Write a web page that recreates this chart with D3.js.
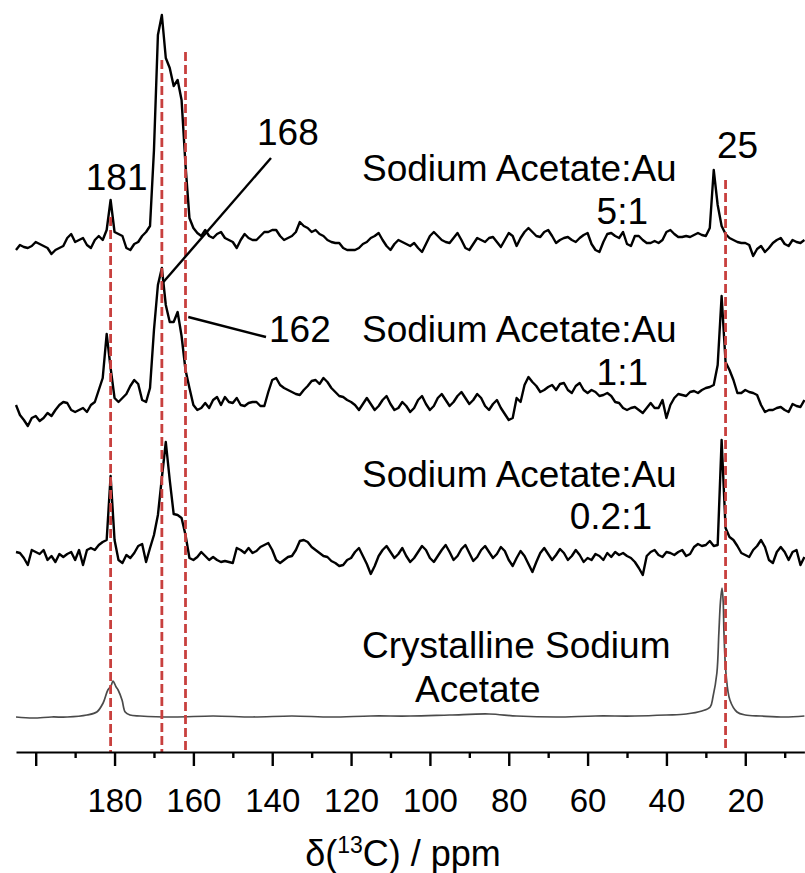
<!DOCTYPE html>
<html>
<head>
<meta charset="utf-8">
<script src="https://cdn.jsdelivr.net/npm/d3@7"></script>
<style>
  html, body { margin: 0; padding: 0; background: #fff; }
  svg { display: block; }
  text { font-family: "Liberation Sans", Arial, sans-serif; fill: #000; }
</style>
</head>
<body>
<svg id="chart" width="805" height="873"></svg>
<script>
// 13C MAS NMR spectra of sodium acetate on Au, stacked with vertical offsets.
// Each noisy spectrum is sampled every 1 ppm from 205 ppm down to 5 ppm.
const ppmStart = 205, ppmEnd = 5;

// Sodium Acetate:Au 5:1
const spec5to1 = [
  -8, -3, -5, -6, -4, 0, -2, -4, -6, -12,
  -8, -6, -4, 4, 8, 0, 2, 4, -3, -6,
  2, 6, 2, 12, 42, 10, 8, 6, -6, -8,
  -2, 0, 6, 10, 16, 92, 207, 227, 184, 174,
  156, 162, 142, 77, 24, 14, 9, 6, 12, 6,
  4, 8, 10, 4, 2, 0, -6, 2, 8, 4,
  2, 2, 6, 10, 10, 12, 12, 6, 2, 4,
  6, 10, 20, 16, 14, 10, 12, 8, 6, 2,
  0, -1, -1, -6, -8, -8, -8, -6, -2, 0,
  4, 6, 9, 2, -4, -8, -2, 2, 0, -2,
  -4, -1, -6, -10, -2, 6, 10, 6, 2, 0,
  -1, 4, 9, 2, -6, -8, -2, 4, 2, 0,
  4, 5, 0, -5, 2, 9, 6, -4, 4, 10,
  14, 10, 6, 5, 10, 12, 6, -1, 2, 4,
  5, 2, 0, 4, 7, 9, -2, -8, -10, 0,
  8, 9, 6, 4, 10, -2, -4, 6, 6, 2,
  -1, -1, 1, -1, 2, 10, 12, 8, 5, 5,
  6, 5, 7, 9, 7, 6, 14, 72, 37, 16,
  8, 4, 2, 0, -1, -1, -3, -14, -7, -4,
  -10, -6, -1, 2, 4, -2, -4, 2, 0, -1,
  2
];

// Sodium Acetate:Au 1:1
const spec1to1 = [
  -5, -15, -20, -26, -18, -16, -21, -18, -13, -16,
  -10, -5, -2, -3, -10, -12, -10, -8, -12, -5,
  -2, 10, 22, 66, 32, 2, -2, 2, 6, 14,
  20, 16, 0, -2, 12, 70, 115, 132, 95, 78,
  78, 88, 64, 30, 12, -5, -10, -8, -3, -8,
  0, 3, -5, 3, -2, -3, 2, -5, -6, -3,
  -2, -2, -6, -6, 8, 20, 22, 15, 12, 10,
  8, 6, 5, 10, 14, 19, 20, 16, 22, 18,
  12, 8, 4, 3, 0, -2, -5, -10, -4, 2,
  -4, -10, -6, 0, 4, -4, -10, -8, -2, -6,
  -12, -8, 0, 4, -4, -10, -6, 2, 6, 0,
  -6, -2, 4, 8, 2, -4, 0, 6, 2, -6,
  -10, -4, 0, -8, -14, -20, -18, 2, -2, 15,
  23, 18, 14, 8, 10, 13, 15, 10, 16, 17,
  10, 7, 14, 17, 10, 7, 10, 8, 4, 5,
  7, 4, -2, -3, -8, -10, -8, -7, -10, -13,
  -8, -3, -8, -8, 0, -18, -5, 2, 6, 5,
  4, 8, 9, 7, 10, 12, 13, 15, 35, 104,
  38, 30, 20, 7, 7, 10, 8, 7, 5, -5,
  -12, -10, -10, -8, -7, -10, -12, -4, -6, -7,
  0
];

// Sodium Acetate:Au 0.2:1
const spec02to1 = [
  3, 2, -3, -10, 5, 3, 1, 5, -5, -1,
  -7, 1, -2, 1, 3, -5, 5, -10, 5, 7,
  5, 10, 13, 15, 79, 15, -5, -8, 0, -3,
  2, 9, 11, -7, 7, 20, 40, 77, 113, 75,
  41, 40, 37, 20, -3, -5, -2, 3, -1, -5,
  -2, -5, -7, -6, -7, -8, 7, 5, 2, 7,
  2, 4, 8, 10, 12, 5, -5, -8, -5, -2,
  -1, 5, 14, 15, 13, 8, 5, 2, -1, -2,
  -6, -8, -11, -10, -5, -3, 3, 7, -1, -9,
  -19, -11, -1, 5, 9, 3, -3, 1, 7, -1,
  -7, -3, 3, 9, 5, -3, -7, -1, 5, 10,
  3, -5, -1, 6, 10, 2, -6, -2, 5, 9,
  3, -3, 1, 8, 4, -5, -11, -3, 4, -1,
  -9, -17, -7, 2, 7, 1, -5, 0, 6, 2,
  -5, -1, 5, 0, -7, -3, -5, 1, -1, -5,
  2, -2, 3, 0, 2, -1, -3, -7, -13, -20,
  -1, 3, 5, 0, -2, 3, 2, 0, 3, 5,
  -1, 1, 8, 11, 9, 10, 14, 9, 10, 115,
  27, 18, 15, 9, 2, 0, -2, 5, 9, 15,
  8, -5, -8, 3, 8, 3, -5, 3, 5, -10,
  -2
];

// Crystalline sodium acetate, [ppm, intensity] pairs
const specCrystal = [
  [205, 0], [200.7, -1], [196, 0], [192, 0], [187, 2], [184.5, 5], [182.9, 14],
  [181.7, 27], [180.9, 31], [180.4, 36], [179.6, 30], [179.1, 27], [178.1, 17],
  [177.3, 5], [176.1, 2], [173.5, 1], [165, 0], [155, 1], [145, 0], [135, 1],
  [125, 0], [115, 1], [105, 1], [95, 2], [85, 3], [78, 1], [68, 0], [58, 1],
  [48, 1], [40, 2], [35, 3], [31, 6], [28.9, 10], [28.2, 20], [27.2, 44],
  [26.7, 84], [26.3, 115], [25.9, 129], [25.6, 115], [25.4, 84], [24.9, 44],
  [23.9, 17], [22.1, 5], [20, 2], [16, 1], [10, 0], [5, 1]
];

// Vertical offset of each trace (a.u.)
const offsets = { s5: 510, s1: 352, s02: 197, cryst: 35 };

// Reference shifts marked by dashed lines, and how high each line reaches (a.u.)
const guideShifts = [181, 168, 162, 25];
const guideTops   = [535, 692, 700, 572];

// Axis ticks
const majorTicks = [200, 180, 160, 140, 120, 100, 80, 60, 40, 20];
const minorTicks = [190, 170, 150, 130, 110, 90, 70, 50, 30, 10];

// Sample names (two lines each)
const sampleNames = [
  ["Sodium Acetate:Au", "5:1"],
  ["Sodium Acetate:Au", "1:1"],
  ["Sodium Acetate:Au", "0.2:1"],
  ["Crystalline Sodium", "Acetate"]
];

const svg = d3.select("#chart");
const axisY = 752;

const x = d3.scaleLinear().domain([ppmStart, ppmEnd]).range([16, 804.4]);
const y = d3.scaleLinear().domain([0, 740]).range([axisY, 12]);

const gridPpm = d3.range(ppmStart, ppmEnd - 0.5, -1);

function gridPoints(values, off) {
  return values.map((v, i) => [gridPpm[i], v + off]);
}

const line = d3.line().x(d => x(d[0])).y(d => y(d[1]));
const smoothLine = d3.line().x(d => x(d[0])).y(d => y(d[1])).curve(d3.curveCatmullRom.alpha(0.5));

const traces = [
  { pts: gridPoints(spec5to1, offsets.s5), gen: line, color: "#000", w: 2.4 },
  { pts: gridPoints(spec1to1, offsets.s1), gen: line, color: "#000", w: 2.4 },
  { pts: gridPoints(spec02to1, offsets.s02), gen: line, color: "#000", w: 2.4 },
  { pts: specCrystal.map(d => [d[0], d[1] + offsets.cryst]), gen: smoothLine, color: "#4a4a4a", w: 1.7 }
];

svg.append("g").selectAll("path").data(traces).join("path")
  .attr("d", d => d.gen(d.pts))
  .attr("fill", "none")
  .attr("stroke", d => d.color)
  .attr("stroke-width", d => d.w)
  .attr("stroke-linejoin", "round");

// Dashed reference lines
svg.append("g").selectAll("line").data(guideShifts).join("line")
  .attr("x1", d => x(d)).attr("x2", d => x(d))
  .attr("y1", (d, i) => y(guideTops[i]))
  .attr("y2", axisY)
  .attr("stroke", "#c8403e")
  .attr("stroke-width", 2.8)
  .attr("stroke-dasharray", "9,4");

// Axis
const axisMajor = d3.axisBottom(x).tickValues(majorTicks).tickSize(14).tickSizeOuter(0)
  .tickFormat(d => d === 200 ? "" : d);
const gAxis = svg.append("g").attr("transform", `translate(0,${axisY})`).call(axisMajor);
gAxis.select(".domain").attr("stroke", "#000").attr("stroke-width", 2.2);
gAxis.selectAll(".tick line").attr("stroke", "#000").attr("stroke-width", 2.4);
gAxis.selectAll(".tick text")
  .attr("y", 60).attr("dy", 0)
  .style("font-family", "'Liberation Sans Narrow', 'Arial Narrow', 'Liberation Sans', sans-serif")
  .style("font-size", "33px")
  .attr("fill", "#000");

const axisMinor = d3.axisBottom(x).tickValues(minorTicks).tickSize(6).tickSizeOuter(0).tickFormat("");
const gMinor = svg.append("g").attr("transform", `translate(0,${axisY})`).call(axisMinor);
gMinor.select(".domain").remove();
gMinor.selectAll(".tick line").attr("stroke", "#000").attr("stroke-width", 2.4);

// Axis title
const title = svg.append("text")
  .attr("x", 403).attr("y", 866)
  .attr("text-anchor", "middle")
  .style("font-size", "36px");
title.append("tspan").text("δ(");
title.append("tspan").attr("dy", -13).style("font-size", "23px").text("13");
title.append("tspan").attr("dy", 13).text("C) / ppm");

// Peak annotations
const annoFont = "37px";
svg.append("text").attr("x", x(181) + 6).attr("y", 190)
  .attr("text-anchor", "middle").style("font-size", annoFont).text("181");
svg.append("text").attr("x", 257).attr("y", 145)
  .style("font-size", annoFont).text("168");
svg.append("text").attr("x", 269).attr("y", 342)
  .style("font-size", annoFont).text("162");
svg.append("text").attr("x", 717).attr("y", 158)
  .style("font-size", annoFont).text("25");

// Leader lines from the 1:1 trace to the 168 and 162 labels
const leaders = [
  { from: [167.6, offsets.s1 + 118], to: [271, 158] },
  { from: [161.3, offsets.s1 + 83], to: [266, 337] }
];
svg.append("g").selectAll("line").data(leaders).join("line")
  .attr("x1", d => x(d.from[0])).attr("y1", d => y(d.from[1]))
  .attr("x2", d => d.to[0]).attr("y2", d => d.to[1])
  .attr("stroke", "#000").attr("stroke-width", 2.4);

// Sample names
const namePos = [
  { x1: 362, y1: 181, x2: 648, y2: 224 },
  { x1: 362, y1: 342, x2: 648, y2: 385 },
  { x1: 362, y1: 487, x2: 652, y2: 529 },
  { x1: 362, y1: 658, x2: 415, y2: 702 }
];
sampleNames.forEach((n, i) => {
  const p = namePos[i];
  svg.append("text").attr("x", p.x1).attr("y", p.y1).style("font-size", annoFont).text(n[0]);
  svg.append("text").attr("x", p.x2).attr("y", p.y2)
    .attr("text-anchor", i < 3 ? "end" : "start")
    .style("font-size", annoFont).text(n[1]);
});
</script>
</body>
</html>
